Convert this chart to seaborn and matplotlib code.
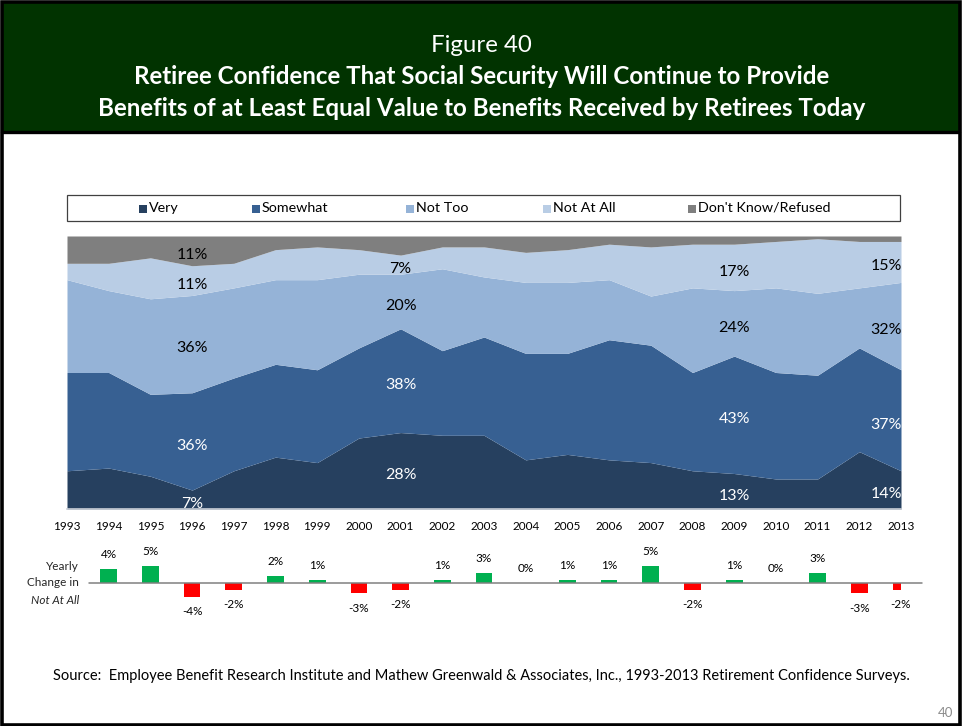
import matplotlib
matplotlib.use("Agg")
import matplotlib.pyplot as plt
import numpy as np
import pandas as pd
import seaborn as sns
from matplotlib.patches import Rectangle

# Survey years and response shares (%)
years = list(range(1993, 2014))
very = [14, 15, 12, 7, 14, 19, 17, 26, 28, 27, 27, 18, 20, 18, 17, 14, 13, 11, 11, 21, 14]
somewhat = [36, 35, 30, 36, 34, 34, 34, 33, 38, 31, 36, 39, 37, 44, 43, 36, 43, 39, 38, 38, 37]
not_too = [34, 30, 35, 36, 33, 31, 33, 27, 20, 30, 22, 26, 26, 22, 18, 31, 24, 31, 30, 22, 32]
not_at_all = [6, 10, 15, 11, 9, 11, 12, 9, 7, 8, 11, 11, 12, 13, 18, 16, 17, 17, 20, 17, 15]
dont_know = [10, 10, 8, 11, 10, 5, 4, 5, 7, 4, 4, 6, 5, 3, 4, 3, 3, 2, 1, 2, 2]

series_names = ["Very", "Somewhat", "Not Too", "Not At All", "Don't Know/Refused"]
series_colors = ["#26405F", "#376092", "#95B3D7", "#B9CDE5", "#7F7F7F"]
label_colors = ["white", "white", "black", "black", "black"]

# Year-over-year change in "Not At All" (percentage points)
change_years = list(range(1994, 2014))
change_values = [4, 5, -4, -2, 2, 1, -3, -2, 1, 3, 0, 1, 1, 5, -2, 1, 0, 3, -3, -2]

# Years whose bands carry value labels
labeled_years = [1996, 2001, 2009, 2013]

W, H = 963, 726
sns.set_theme(style="white")
plt.rcParams["font.family"] = ["Lato", "DejaVu Sans"]

fig = plt.figure(figsize=(W / 100, H / 100), dpi=100)
fig.patch.set_facecolor("white")


def fx(x):
    return x / W


def fy(y):
    return 1 - y / H


def rect(x0, y0, x1, y1):
    return [fx(x0), fy(y1), fx(x1) - fx(x0), fy(y0) - fy(y1)]


# Page frame and header band
fig.add_artist(Rectangle((fx(1.5), fy(724.5)), fx(960) - fx(1.5), fy(1.5) - fy(724.5),
                         transform=fig.transFigure, facecolor="none",
                         edgecolor="black", linewidth=2.6, zorder=5))
fig.add_artist(Rectangle((fx(2), fy(131)), fx(959) - fx(2), fy(2) - fy(131),
                         transform=fig.transFigure, facecolor="#013300",
                         edgecolor="none", zorder=1))
fig.add_artist(plt.Line2D([fx(2), fx(959)], [fy(132), fy(132)],
                          transform=fig.transFigure, color="black", linewidth=2.4, zorder=2))

fig.text(0.5, fy(45), "Figure 40", color="white", fontsize=17.3,
         ha="center", va="center")
fig.text(0.5, fy(77), "Retiree Confidence That Social Security Will Continue to Provide",
         color="white", fontsize=17.4, fontweight="bold", ha="center", va="center")
fig.text(0.5, fy(108), "Benefits of at Least Equal Value to Benefits Received by Retirees Today",
         color="white", fontsize=17.4, fontweight="bold", ha="center", va="center")

# Stacked area chart (shares normalised to 100%)
data = pd.DataFrame({"Year": years, "Very": very, "Somewhat": somewhat,
                     "Not Too": not_too, "Not At All": not_at_all,
                     "Don't Know/Refused": dont_know})
shares = data[series_names].div(data[series_names].sum(axis=1), axis=0) * 100

ax = fig.add_axes(rect(67, 236, 901, 509))
ax.stackplot(data["Year"], *[shares[c] for c in series_names],
             colors=series_colors, linewidth=0)
ax.set_xlim(years[0], years[-1])
ax.set_ylim(0, 100)
ax.set_yticks([])
ax.set_xticks(years)
ax.set_xticklabels([str(y) for y in years], fontsize=8.5, color="black")
ax.tick_params(axis="x", length=0, pad=9)
for s in ["top", "left", "right"]:
    ax.spines[s].set_visible(False)
ax.spines["bottom"].set_color("#C9CED6")
ax.spines["bottom"].set_linewidth(1.2)
ax.set_facecolor("white")

cum = shares.cumsum(axis=1)
label_shift = 1.6  # nudge labels slightly below the band centre
for yr in labeled_years:
    i = years.index(yr)
    for j, name in enumerate(series_names):
        if yr != 1996 and name == "Don't Know/Refused":
            continue
        lo = cum.iloc[i, j] - shares.iloc[i, j]
        mid = lo + shares.iloc[i, j] / 2 - label_shift
        val = data.loc[i, name]
        if yr == 2013:
            ax.text(yr + 0.02, mid, f"{val}%", ha="right", va="center",
                    fontsize=11.5, color=label_colors[j])
        else:
            ax.text(yr, mid, f"{val}%", ha="center", va="center",
                    fontsize=11.5, color=label_colors[j])

# Legend strip
fig.add_artist(Rectangle((fx(67), fy(221)), fx(900) - fx(67), fy(195) - fy(221),
                         transform=fig.transFigure, facecolor="white",
                         edgecolor="#404040", linewidth=0.9, zorder=3))
legend_x = [139, 252, 406, 543, 688]
for x0, name, col in zip(legend_x, series_names, series_colors):
    fig.add_artist(Rectangle((fx(x0), fy(212.5)), fx(8), fy(0) - fy(8),
                             transform=fig.transFigure, facecolor=col,
                             edgecolor="none", zorder=4))
    fig.text(fx(x0 + 9.5), fy(208), name, fontsize=10.3, ha="left", va="center",
             color="black", zorder=4)

# Yearly change bars
chg = pd.DataFrame({"Year": change_years, "Change": change_values})
chg["Direction"] = np.where(chg["Change"] < 0, "down", "up")

px_per_pt = 3.4
bar_top, bar_bottom, base = 515, 645, 583
bx = fig.add_axes(rect(67, bar_top, 901, bar_bottom))
sns.barplot(data=chg, x="Year", y="Change", hue="Direction",
            palette={"up": "#00B050", "down": "#FF0000"},
            native_scale=True, width=0.4, dodge=False, legend=False, ax=bx,
            linewidth=0, saturation=1)
bx.set_xlim(years[0], years[-1])
bx.set_ylim(-(bar_bottom - base) / px_per_pt, (base - bar_top) / px_per_pt)
bx.axis("off")
bx.plot([1993.53, 2013.5], [0, 0], color="#808080", linewidth=1.1, clip_on=False)
for yr, v in zip(change_years, change_values):
    if v >= 0:
        bx.text(yr, v + 14.5 / px_per_pt, f"{v}%", ha="center", va="center",
                fontsize=8.5, color="black")
    else:
        bx.text(yr, v - 15 / px_per_pt, f"{v}%", ha="center", va="center",
                fontsize=8.5, color="black")

fig.text(fx(79), fy(566), "Yearly", fontsize=8.5, ha="right", va="center")
fig.text(fx(79), fy(583), "Change in", fontsize=8.5, ha="right", va="center")
fig.text(fx(79), fy(600), "Not At All", fontsize=8.5, ha="right", va="center",
         style="italic")

fig.text(fx(481), fy(676),
         "Source:  Employee Benefit Research Institute and Mathew Greenwald & Associates, Inc., "
         "1993-2013 Retirement Confidence Surveys.",
         fontsize=10.5, ha="center", va="center", color="black")
fig.text(fx(953), fy(713), "40", fontsize=9.5, ha="right", va="center", color="#8C8C8C")

fig.savefig("out.png", dpi=100, facecolor="white")
